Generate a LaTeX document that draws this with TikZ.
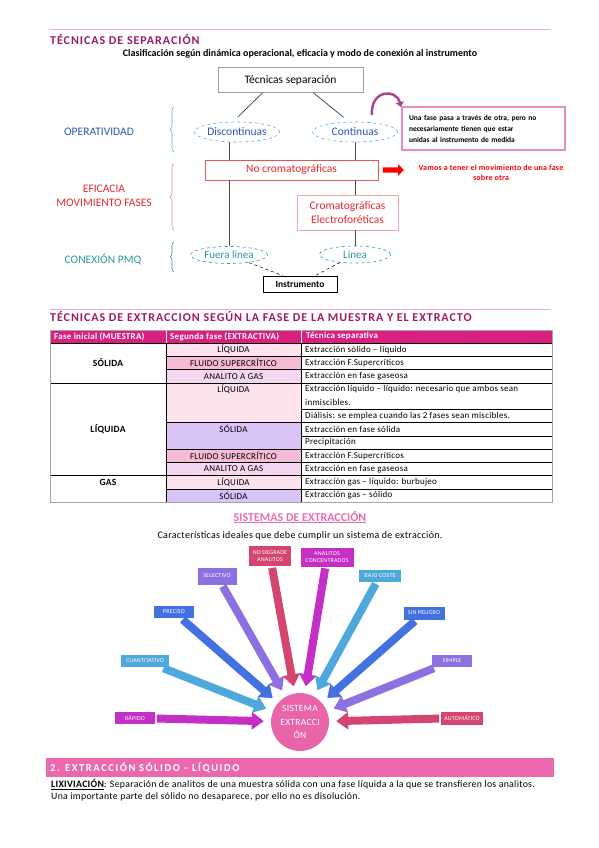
\documentclass[tikz,border=0pt]{standalone}
\usepackage{fontspec}
\setmainfont{Carlito}
\newfontfamily\trackfont[LetterSpace=8]{Carlito}
\newfontfamily\widefont[LetterSpace=15]{Carlito}
\newfontfamily\tinyfont[LetterSpace=3]{Carlito}
\usetikzlibrary{arrows.meta,positioning,shapes.geometric,shapes.arrows,decorations.pathreplacing}
\newcommand{\fsz}[2]{\fontsize{#1}{#2}\selectfont}
\definecolor{titlemag}{HTML}{9E1A5E}
\definecolor{rulepink}{HTML}{F4A9CC}
\definecolor{opblue}{HTML}{2F55B5}
\definecolor{ellblue}{HTML}{5BB0E3}
\definecolor{tealc}{HTML}{2A9A9E}
\definecolor{effred}{HTML}{E8282E}
\definecolor{boxred}{HTML}{E05555}
\definecolor{boxpink}{HTML}{F2A5A5}
\definecolor{notepink}{HTML}{E88DC2}
\definecolor{arcplum}{HTML}{A8468A}
\definecolor{headmag}{HTML}{D91F7F}
\definecolor{cellpinkA}{HTML}{FCE3EE}
\definecolor{cellpinkB}{HTML}{F6BBD7}
\definecolor{celllavP}{HTML}{F5D6F1}
\definecolor{celllav}{HTML}{DAC4F7}
\definecolor{sispink}{HTML}{EC6AAE}
\definecolor{circpink}{HTML}{EA64AA}
\definecolor{fmag}{HTML}{C430C6}
\definecolor{fsky}{HTML}{4FA8DB}
\definecolor{fblue}{HTML}{4471E2}
\definecolor{fpurp}{HTML}{8C70E0}
\definecolor{fcrim}{HTML}{D4466F}
\definecolor{barpink}{HTML}{EC68AE}

\begin{document}
\begin{tikzpicture}[x=1pt,y=-1pt,
  every node/.style={inner sep=0pt,align=center},
  sectitle/.style={anchor=west,text=titlemag,font=\trackfont\bfseries\fsz{12}{14}},
  pinkrule/.style={draw=rulepink,line width=0.8pt},
  rootbox/.style={draw=gray!75,line width=0.8pt,minimum width=145pt,
    minimum height=25pt,font=\fsz{11.5}{13}},
  opell/.style={ellipse,draw=ellblue,dashed,line width=0.6pt,minimum width=85pt,
    minimum height=20pt,text=opblue,font=\fsz{11.5}{13}},
  conell/.style={ellipse,draw=tealc,dashed,line width=0.6pt,minimum height=17pt,
    text=tealc,font=\fsz{11}{13}},
  effbox/.style={draw=#1,fill=white,line width=0.8pt,text=effred,font=\fsz{11.5}{14}},
  sidelabel/.style={text=#1,font=\fsz{11.5}{14}},
  sidebrace/.style={draw=#1,line width=0.6pt,decorate,decoration={brace,amplitude=4pt}},
  link/.style={draw=gray!60!black,line width=0.8pt},
  dashlink/.style={draw=black,dashed,line width=0.5pt},
  bendarrow/.style={draw=arcplum,line width=2.5pt,-{Triangle[length=5pt,width=8pt]}},
  tabhead/.style={anchor=west,text=white,font=\tinyfont\bfseries\fsz{9}{10}},
  phasecell/.style={font=\tinyfont\fsz{9}{10}},
  fasecell/.style={font=\tinyfont\bfseries\fsz{9.5}{10}},
  techcell/.style={anchor=west,font=\tinyfont\fsz{9}{10}},
  tabline/.style={draw=black,line width=0.5pt},
  featbox/.style={fill=#1,draw=white,line width=0.8pt,text=white,
    font=\tinyfont\fsz{6}{7},minimum width=42pt,minimum height=13pt},
  featarrow/.style={draw=#1,line width=8pt,shorten >=7pt,shorten <=1pt,
    -{Triangle[length=12pt,width=17pt]}}
]
\useasboundingbox (0,0) rectangle (599,848);

% clasificacion de las tecnicas
\draw[pinkrule] (50,29) -- (550,29);
\node[sectitle] (septitle) at (50,40) {TÉCNICAS DE SEPARACIÓN};
\node[font=\bfseries\fsz{10}{12}] (sepsub) at (300,54)
  {Clasificación según dinámica operacional, eficacia y modo de conexión al instrumento};
\node[rootbox] (root) at (290.5,80) {Técnicas separación};
\node[opell] (disc) at (237,132) {Discontinuas};
\node[opell] (cont) at (355,132) {Continuas};
\node[effbox=boxred,minimum width=173pt,minimum height=20pt] (nocrom) at (291.5,170)
  {No cromatográficas};
\node[effbox=boxpink,minimum width=101pt,minimum height=35pt] (crom) at (347.5,212.5)
  {Cromatográficas\\Electroforéticas};
\node[conell,minimum width=77pt] (fuera) at (229,255) {Fuera linea};
\node[conell,minimum width=71pt] (linea) at (355,254.5) {Linea};
\node[draw=black,line width=0.6pt,minimum width=74pt,minimum height=16pt,
  font=\bfseries\fsz{9.5}{11}] (instr) at (300,284) {Instrumento};
\draw[link,shorten >=7pt] ([xshift=-28pt]root.south) -- ([xshift=-4pt]disc.north);
\draw[link,shorten >=7pt] ([xshift=23pt]root.south) -- ([xshift=-6pt]cont.north);
\draw[link] (disc.south -| fuera) -- (nocrom.north -| fuera);
\draw[link] (nocrom.south -| fuera) -- (fuera.north);
\draw[link] (cont.south) -- (nocrom.north -| cont);
\draw[link] (nocrom.south -| cont) -- (crom.north -| cont);
\draw[link] (crom.south -| cont) -- (linea.north);
\draw[dashlink] (fuera) -- ([xshift=-17pt]instr.north);
\draw[dashlink] (linea) -- ([xshift=15pt]instr.north);

\node[sidelabel=opblue] (oplab) at (99,132) {OPERATIVIDAD};
\node[sidelabel=effred] (efflab) at (104,196) {EFICACIA\\MOVIMIENTO FASES};
\node[sidelabel=tealc] (conlab) at (103,259) {CONEXIÓN PMQ};
\draw[sidebrace=ellblue] (174,152) -- (174,107);
\draw[sidebrace=boxred!70] (174,230) -- (174,164);
\draw[sidebrace=tealc] (174,272) -- (174,242);

\node[draw=notepink,line width=1.2pt,text width=149pt,inner xsep=7pt,minimum height=43pt,
  align=left,font=\bfseries\fsz{7.5}{11}] (note) at (483.5,128.5)
  {Una fase pasa a través de otra, pero no\\necesariamente tienen que estar\\unidas al instrumento de medida};
\coordinate (arcfrom) at (372,115);
\coordinate (arcto) at (401,107);
\draw[bendarrow] (arcfrom) .. controls (370,90) and (396,88) .. (arcto);
\node[single arrow,fill=red,inner xsep=0pt,inner ysep=2.5pt,single arrow head extend=3pt,
  minimum height=21pt] (redarr) at (392,170) {};
\node[text=red,font=\tinyfont\bfseries\fsz{8}{10}] (movtxt) at (491,173)
  {Vamos a tener el movimiento de una fase\\sobre otra};

% tabla de extraccion
\draw[pinkrule] (50,309) -- (550,309);
\node[sectitle] (extitle) at (50,317)
  {TÉCNICAS DE EXTRACCION SEGÚN LA FASE DE LA MUESTRA Y EL EXTRACTO};
\fill[headmag] (50,330) rectangle (552,343);
\node[tabhead] (hfase) at (54,336.5) {Fase inicial (MUESTRA)};
\node[tabhead] (hseg) at (170,336.5) {Segunda fase (EXTRACTIVA)};
\node[tabhead] (htec) at (306,336.5) {Técnica separativa};
\foreach \a/\b/\c in {0/1/cellpinkA,1/2/cellpinkB,2/3/celllavP,3/6/cellpinkA,6/8/celllav,
    8/9/cellpinkB,9/10/celllavP,10/11/cellpinkA,11/12/celllav}
  \fill[\c] (166,{343+13.25*\a}) rectangle (301,{343+13.25*\b});
\foreach \k/\t in {1/LÍQUIDA,2/FLUIDO SUPERCRÍTICO,3/ANALITO A GAS,4/LÍQUIDA,7/SÓLIDA,
    9/FLUIDO SUPERCRÍTICO,10/ANALITO A GAS,11/LÍQUIDA,12/SÓLIDA}
  \node[phasecell] (ph\k) at (233.5,{343+13.25*(\k-0.5)}) {\t};
\node[fasecell] (fsol) at (108,362.9) {SÓLIDA};
\node[fasecell] (fliq) at (108,429.1) {LÍQUIDA};
\node[fasecell] (fgas) at (108,482.1) {GAS};
\foreach \k/\t in {1/{Extracción sólido – líquido},2/{Extracción F.Supercríticos},
    3/{Extracción en fase gaseosa},
    4/{Extracción líquido – líquido: necesario que ambos sean},5/{inmiscibles.},
    6/{Diálisis: se emplea cuando las 2 fases sean miscibles.},
    7/{Extracción en fase sólida},8/{Precipitación},9/{Extracción F.Supercríticos},
    10/{Extracción en fase gaseosa},11/{Extracción gas – líquido: burbujeo},
    12/{Extracción gas – sólido}}
  \node[techcell] (tc\k) at (305,{343+13.25*(\k-0.5)}) {\t};
\foreach \k in {1,2,3,6,8,9,10,11}
  \draw[tabline] (166,{343+13.25*\k}) -- (552,{343+13.25*\k});
\foreach \k in {5,7}
  \draw[tabline] (301,{343+13.25*\k}) -- (552,{343+13.25*\k});
\foreach \k in {3,10}
  \draw[tabline] (50,{343+13.25*\k}) -- (166,{343+13.25*\k});
\draw[tabline] (50,343) -- (552,343);
\draw[tabline] (166,343) -- (166,502);
\draw[tabline] (301,343) -- (301,502);
\draw[white,line width=0.8pt] (166,330) -- (166,343) (301,330) -- (301,343);
\draw[gray!70,line width=1pt] (50,330) rectangle (552,502);

% sistemas de extraccion
\node[font=\bfseries\fsz{12}{14},text=sispink] (sistitle) at (300,517)
  {\underline{SISTEMAS DE EXTRACCIÓN}};
\node[font=\tinyfont\fsz{10}{12}] (sissub) at (300,536)
  {Características ideales que debe cumplir un sistema de extracción.};
\node[circle,fill=circpink,minimum size=58pt,text=white,font=\tinyfont\fsz{9.5}{13.5}] (sist)
  at (300,722) {SISTEMA\\EXTRACCI\\ÓN};
\node[featbox=fmag,minimum width=41pt] (rapido) at (135,718) {RÁPIDO};
\node[featbox=fsky,minimum width=49pt] (cuanti) at (145,661) {CUANTITATIVO};
\node[featbox=fblue,minimum width=41pt] (preciso) at (174,612) {PRECISO};
\node[featbox=fpurp,minimum width=40pt,minimum height=18pt] (selec) at (217,576) {SELECTIVO};
\node[featbox=fcrim,minimum width=43pt,minimum height=21pt] (nodeg) at (270,556)
  {NO DEGRADE\\ANALITOS};
\node[featbox=fmag,minimum width=54pt,minimum height=20pt] (conc) at (327,557)
  {ANALITOS\\CONCENTRADOS};
\node[featbox=fsky,minimum width=43pt] (bajo) at (380,576) {BAJO COSTE};
\node[featbox=fblue,minimum width=42pt,minimum height=14pt] (sinpel) at (424,613) {SIN PELIGRO};
\node[featbox=fpurp,minimum width=41pt] (simple) at (452,661) {SIMPLE};
\node[featbox=fcrim,minimum width=43pt,minimum height=14pt] (auto) at (462,718) {AUTOMÁTICO};
\foreach \f/\c in {rapido/fmag,cuanti/fsky,preciso/fblue,selec/fpurp,nodeg/fcrim,
    conc/fmag,bajo/fsky,sinpel/fblue,simple/fpurp,auto/fcrim}
  \draw[featarrow=\c] (\f) -- (sist);

% extraccion solido liquido
\node[fill=barpink,anchor=north west,text width=500pt,inner xsep=4pt,minimum height=19pt,
  align=left,text=white,font=\widefont\bfseries\fsz{10.5}{12}] (exbar) at (46,758)
  {2. EXTRACCIÓN SÓLIDO – LÍQUIDO};
\node[anchor=north west,align=left,font=\tinyfont\fsz{9.8}{12}] (lixiv) at (51,779)
  {\textbf{\underline{LIXIVIACIÓN}}: Separación de analitos de una muestra sólida con una fase líquida a la que se transfieren los analitos.\\
  Una importante parte del sólido no desaparece, por ello no es disolución.};
\end{tikzpicture}
\end{document}
